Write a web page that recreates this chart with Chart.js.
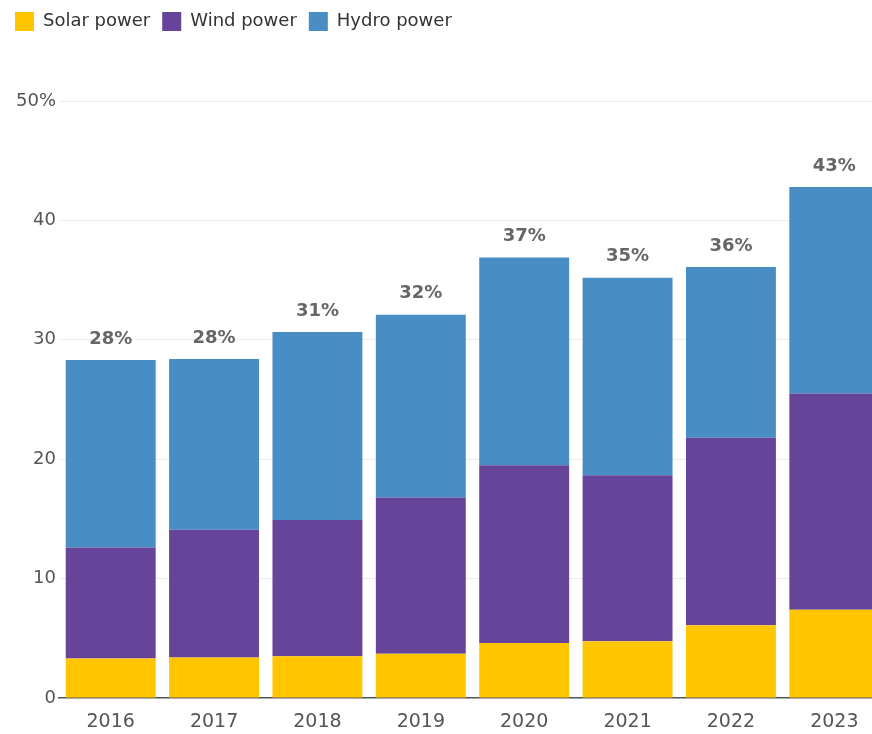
<!DOCTYPE html>
<html>
<head>
<meta charset="utf-8">
<script src="https://cdn.jsdelivr.net/npm/chart.js@4"></script>
<style>
  html, body { margin: 0; padding: 0; background: #fff; overflow: hidden; }
  #wrap { width: 886px; height: 734px; }
</style>
</head>
<body>
<div id="wrap"><canvas id="chart"></canvas></div>
<script>
// share of electricity, %
const years = ['2016', '2017', '2018', '2019', '2020', '2021', '2022', '2023'];
const solarData = [3.3, 3.4, 3.5, 3.7, 4.6, 4.75, 6.1, 7.4];
const windData = [9.3, 10.7, 11.4, 13.1, 14.9, 13.9, 15.7, 18.1];
const hydroData = [15.7, 14.3, 15.75, 15.3, 17.4, 16.55, 14.3, 17.3];
const yTicks = [0, 10, 20, 30, 40, 50];

const FONT = 'DejaVu Sans';

// push the plot down below the legend
const legendSpace = {
  id: 'legendSpace',
  beforeInit(chart) {
    const origFit = chart.legend.fit;
    chart.legend.fit = function () {
      origFit.bind(chart.legend)();
      this.height = 101;
    };
  }
};

// total % above each stack
const totals = {
  id: 'totals',
  afterDatasetsDraw(chart) {
    const ctx = chart.ctx;
    const top = chart.getDatasetMeta(2);
    ctx.save();
    ctx.font = 'bold 18px "' + FONT + '"';
    ctx.fillStyle = '#666';
    ctx.textAlign = 'center';
    ctx.textBaseline = 'middle';
    years.forEach((y, i) => {
      const sum = solarData[i] + windData[i] + hydroData[i];
      const bar = top.data[i];
      ctx.fillText(Math.round(sum) + '%', bar.x, bar.y - 21);
    });
    ctx.restore();
  }
};

const ctx = document.getElementById('chart').getContext('2d');
new Chart(ctx, {
  type: 'bar',
  data: {
    labels: years,
    datasets: [
      { label: 'Solar power', data: solarData, backgroundColor: '#ffc600' },
      { label: 'Wind power', data: windData, backgroundColor: '#65449a' },
      { label: 'Hydro power', data: hydroData, backgroundColor: '#488dc3' }
    ]
  },
  options: {
    responsive: true,
    maintainAspectRatio: false,
    animation: false,
    layout: { padding: { left: 3, right: 0, top: 0, bottom: 0 } },
    datasets: { bar: { barPercentage: 0.87, categoryPercentage: 1 } },
    plugins: {
      tooltip: { enabled: false },
      legend: {
        position: 'top',
        align: 'start',
        labels: {
          boxWidth: 19,
          boxHeight: 19,
          padding: 12,
          color: '#333',
          font: { family: FONT, size: 18 }
        }
      }
    },
    scales: {
      x: {
        stacked: true,
        afterFit(scale) { scale.height = 36; },
        grid: { display: false, drawTicks: false },
        border: { display: true, color: '#555', width: 1.5 },
        ticks: { color: '#555', padding: 13, font: { family: FONT, size: 19 } }
      },
      y: {
        stacked: true,
        min: 0,
        max: 50,
        afterFit(scale) { scale.width = 56; },
        afterBuildTicks(scale) { scale.ticks = yTicks.map(v => ({ value: v })); },
        grid: {
          drawTicks: false,
          color: c => (c.tick && c.tick.value === 0 ? 'rgba(0,0,0,0)' : '#ebebeb')
        },
        border: { display: false },
        ticks: {
          color: '#555',
          padding: 3,
          font: { family: FONT, size: 18 },
          callback: v => (v === 50 ? '50%' : v)
        }
      }
    }
  },
  plugins: [legendSpace, totals]
});
</script>
</body>
</html>
